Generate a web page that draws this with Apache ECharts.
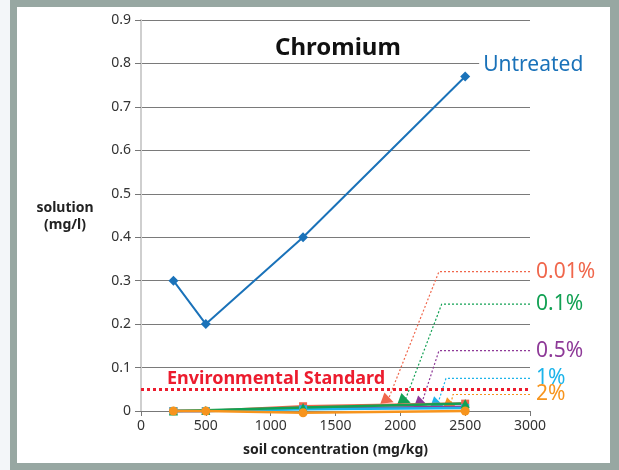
<!DOCTYPE html>
<html>
<head>
<meta charset="utf-8">
<script src="https://cdn.jsdelivr.net/npm/echarts@6/dist/echarts.min.js"></script>
<style>
html, body { margin: 0; padding: 0; background: #f3f6f9; }
#chart { width: 619px; height: 470px; }
</style>
</head>
<body>
<div id="chart"></div>
<script>
// soil concentration (mg/kg)
var concentrations = [250, 500, 1250, 2500];
// solution (mg/l)
var untreated = [0.3, 0.2, 0.4, 0.77];
var dose001 = [0, 0, 0.011, 0.017];
var dose01 = [0, 0.002, 0.008, 0.017];
var dose05 = [0, 0, 0.006, 0.010];
var dose1 = [0, 0, 0.004, 0.007];
var dose2 = [0, 0, -0.004, 0];
var envStandard = 0.05;

// callout leaders: label height, bend x, arrow tip
var calloutNames = ['0.01%', '0.1%', '0.5%', '1%', '2%'];
var calloutColors = ['#f0674c', '#12a154', '#8e3a98', '#1cb4ea', '#f7941d'];
var calloutY = [0.321, 0.246, 0.139, 0.075, 0.038];
var calloutBendX = [2298, 2319, 2298, 2352, 2406];
var calloutTipX = [1905, 2036, 2165, 2288, 2388];
var calloutTipY = [0.025, 0.024, 0.018, 0.016, 0.014];

var font = 'Noto Sans';
var chart = echarts.init(document.getElementById('chart'));

function pairs(ys) {
    return concentrations.map(function (x, i) { return [x, ys[i]]; });
}

function doseSeries(name, ys, color, symbol, size) {
    return {
        name: name, type: 'line', data: pairs(ys), clip: false,
        symbol: symbol, symbolSize: size,
        lineStyle: { color: color, width: 2.5 },
        itemStyle: { color: color }
    };
}

var series = [
    {
        name: 'Untreated', type: 'line', data: pairs(untreated),
        symbol: 'diamond', symbolSize: 10,
        lineStyle: { color: '#1a72b9', width: 2 },
        itemStyle: { color: '#1a72b9' },
        label: {
            show: true,
            formatter: function (p) { return p.dataIndex === 3 ? 'Untreated' : ''; },
            position: 'right', offset: [4, -11],
            color: '#1a72b9', fontFamily: font, fontSize: 21,
            backgroundColor: '#fff', padding: [0, 4]
        },
        markLine: {
            silent: true, symbol: 'none',
            data: [{ yAxis: envStandard }],
            lineStyle: { color: '#ec1c2e', type: [3, 3], width: 3 },
            label: {
                show: true, position: 'insideStartTop',
                formatter: 'Environmental Standard',
                color: '#ec1c2e', fontFamily: font, fontWeight: 'bold', fontSize: 18,
                distance: [26, 1]
            }
        }
    },
    doseSeries('0.01%', dose001, '#f0674c', 'rect', 8),
    doseSeries('0.5%', dose05, '#8e3a98', 'rect', 6),
    doseSeries('1%', dose1, '#1cb4ea', 'rect', 8),
    doseSeries('0.1%', dose01, '#12a154', 'triangle', 9),
    doseSeries('2%', dose2, '#f7941d', 'circle', 9)
];

calloutNames.forEach(function (name, i) {
    series.push({
        name: name + ' note', type: 'line', clip: false, silent: true,
        data: [[3000, calloutY[i]], [calloutBendX[i], calloutY[i]], [calloutTipX[i], calloutTipY[i]]],
        showAllSymbol: true,
        symbol: 'path://M0,0 L12,6 L0,12 Z',
        symbolSize: function (v, p) { return p.dataIndex === 2 ? 12 : 0; },
        symbolRotate: -20,
        lineStyle: { color: calloutColors[i], type: [2, 2], width: 1.2 },
        itemStyle: { color: calloutColors[i] },
        label: {
            show: true, position: 'right', distance: 6,
            formatter: function (p) { return p.dataIndex === 0 ? name : ''; },
            color: calloutColors[i], fontFamily: font, fontSize: 21
        },
        z: 1
    });
});

chart.setOption({
    animation: false,
    backgroundColor: 'transparent',
    graphic: [
        { type: 'rect', shape: { x: 10, y: 0, width: 609, height: 470 }, style: { fill: '#97a7a2' }, z: -10 },
        { type: 'rect', shape: { x: 17, y: 7, width: 593, height: 456 }, style: { fill: '#fff' }, z: -9 },
        {
            type: 'text', z: 5,
            style: { x: 65, y: 200, text: 'solution\n(mg/l)', fill: '#222', font: 'bold 14px "Noto Sans"', align: 'center', lineHeight: 17 }
        }
    ],
    title: {
        text: 'Chromium', left: 270, top: 31,
        textStyle: { fontFamily: font, fontSize: 24, fontWeight: 'bold', color: '#111' }
    },
    grid: { left: 141, right: 89, top: 20, bottom: 59 },
    xAxis: {
        type: 'value', min: 0, max: 3000, interval: 500,
        name: 'soil concentration (mg/kg)', nameLocation: 'middle', nameGap: 32,
        nameTextStyle: { fontFamily: font, fontSize: 14, fontWeight: 'bold', color: '#222' },
        axisLine: { lineStyle: { color: '#777', width: 1 } },
        axisTick: { show: true, length: 5, lineStyle: { color: '#777' } },
        axisLabel: { fontFamily: font, fontSize: 14, color: '#333', margin: 8,
            formatter: function (v) { return String(v); } },
        splitLine: { show: false }
    },
    yAxis: {
        type: 'value', min: 0, max: 0.9, interval: 0.1,
        axisLine: { show: true, lineStyle: { color: '#cfcfcf', width: 2 } },
        axisTick: { show: true, length: 6, lineStyle: { color: '#777' } },
        axisLabel: { fontFamily: font, fontSize: 14, color: '#333', margin: 10,
            formatter: function (v) { return v === 0 ? '0' : v.toFixed(1); } },
        splitLine: { lineStyle: { color: '#7a7a7a', width: 1 } }
    },
    series: series
});
</script>
</body>
</html>
